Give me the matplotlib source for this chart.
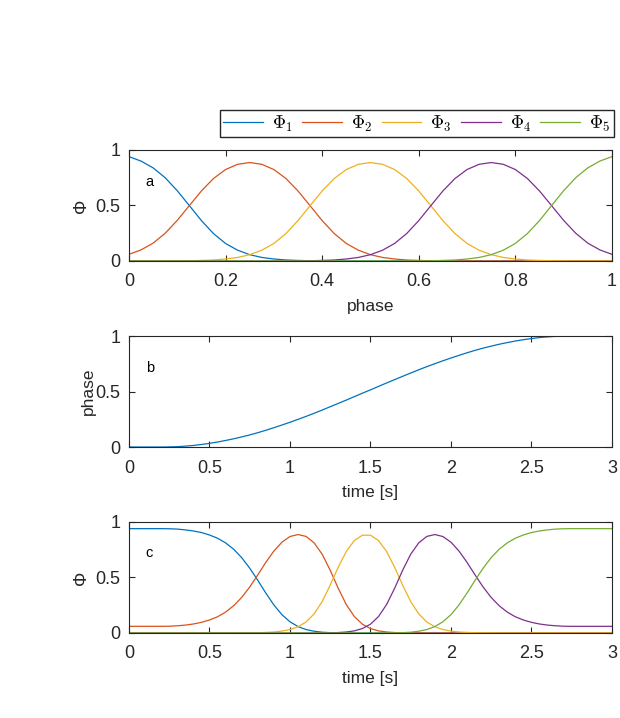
import matplotlib
matplotlib.use("Agg")
import matplotlib.pyplot as plt
import numpy as np

plt.rcParams['font.family'] = ['Liberation Sans', 'DejaVu Sans']
plt.rcParams['mathtext.fontset'] = 'cm'

# panel a: basis functions over phase (step 0.025)
phase_a = np.linspace(0, 1, 41)
phi1_a = [0.940, 0.900, 0.839, 0.750, 0.633, 0.499, 0.364, 0.247, 0.158, 0.097, 0.057, 0.032, 0.018, 0.009,
          0.005, 0.002, 0.001, 0, 0, 0, 0, 0, 0, 0, 0, 0, 0, 0, 0, 0, 0, 0, 0, 0, 0, 0, 0, 0, 0, 0, 0]
phi2_a = [0.060, 0.100, 0.161, 0.250, 0.366, 0.499, 0.631, 0.743, 0.824, 0.871, 0.887, 0.871, 0.824, 0.743,
          0.631, 0.498, 0.364, 0.247, 0.158, 0.097, 0.057, 0.032, 0.018, 0.009, 0.005, 0.002, 0.001, 0, 0, 0,
          0, 0, 0, 0, 0, 0, 0, 0, 0, 0, 0]
phi3_a = [0, 0, 0, 0, 0.001, 0.002, 0.005, 0.009, 0.018, 0.032, 0.057, 0.097, 0.158, 0.247, 0.364, 0.498,
          0.631, 0.743, 0.824, 0.871, 0.887, 0.871, 0.824, 0.743, 0.631, 0.498, 0.364, 0.247, 0.158, 0.097,
          0.057, 0.032, 0.018, 0.009, 0.005, 0.002, 0.001, 0, 0, 0, 0]
phi4_a = [0, 0, 0, 0, 0, 0, 0, 0, 0, 0, 0, 0, 0, 0, 0.001, 0.002, 0.005, 0.009, 0.018, 0.032, 0.057, 0.097,
          0.158, 0.247, 0.364, 0.498, 0.631, 0.743, 0.824, 0.871, 0.887, 0.871, 0.824, 0.743, 0.631, 0.499,
          0.366, 0.250, 0.161, 0.100, 0.060]
phi5_a = [0, 0, 0, 0, 0, 0, 0, 0, 0, 0, 0, 0, 0, 0, 0, 0, 0, 0, 0, 0, 0, 0, 0, 0, 0.001, 0.002, 0.005,
          0.009, 0.018, 0.032, 0.057, 0.097, 0.158, 0.247, 0.364, 0.499, 0.633, 0.750, 0.839, 0.900, 0.940]

# panel b / c: time axis (step 0.05 s)
time_s = np.linspace(0, 3, 61)
phase_b = [0, 0, 0, 0, 0, 0.001, 0.003, 0.008, 0.014, 0.023, 0.033, 0.045, 0.059, 0.074, 0.091, 0.109,
           0.129, 0.151, 0.174, 0.198, 0.223, 0.249, 0.276, 0.304, 0.333, 0.363, 0.393, 0.423, 0.454, 0.485,
           0.515, 0.546, 0.577, 0.607, 0.637, 0.667, 0.696, 0.724, 0.751, 0.777, 0.802, 0.826, 0.849, 0.871,
           0.891, 0.909, 0.926, 0.941, 0.955, 0.967, 0.977, 0.986, 0.992, 0.997, 0.999, 1, 1, 1, 1, 1, 1]

phi1_c = [0.940, 0.940, 0.940, 0.940, 0.940, 0.939, 0.936, 0.929, 0.919, 0.905, 0.883, 0.854, 0.812, 0.755,
          0.679, 0.584, 0.475, 0.360, 0.253, 0.165, 0.101, 0.058, 0.031, 0.016, 0.007, 0.003, 0.001, 0, 0, 0,
          0, 0, 0, 0, 0, 0, 0, 0, 0, 0, 0, 0, 0, 0, 0, 0, 0, 0, 0, 0, 0, 0, 0, 0, 0, 0, 0, 0, 0, 0, 0]
phi2_c = [0.060, 0.060, 0.060, 0.060, 0.060, 0.061, 0.065, 0.071, 0.081, 0.096, 0.117, 0.146, 0.188, 0.245,
          0.320, 0.414, 0.523, 0.636, 0.738, 0.818, 0.869, 0.887, 0.870, 0.812, 0.710, 0.565, 0.402, 0.256,
          0.148, 0.079, 0.040, 0.019, 0.009, 0.004, 0.001, 0.001, 0, 0, 0, 0, 0, 0, 0, 0, 0, 0, 0, 0, 0, 0,
          0, 0, 0, 0, 0, 0, 0, 0, 0, 0, 0]
phi3_c = [0, 0, 0, 0, 0, 0, 0, 0, 0, 0, 0, 0, 0, 0, 0.001, 0.001, 0.002, 0.005, 0.009, 0.017, 0.031, 0.056,
          0.099, 0.172, 0.283, 0.431, 0.593, 0.735, 0.833, 0.881, 0.881, 0.833, 0.735, 0.593, 0.431, 0.283,
          0.172, 0.099, 0.056, 0.031, 0.017, 0.009, 0.005, 0.002, 0.001, 0.001, 0, 0, 0, 0, 0, 0, 0, 0, 0,
          0, 0, 0, 0, 0, 0]
phi4_c = [0, 0, 0, 0, 0, 0, 0, 0, 0, 0, 0, 0, 0, 0, 0, 0, 0, 0, 0, 0, 0, 0, 0, 0, 0.001, 0.001, 0.004, 0.009,
          0.019, 0.040, 0.079, 0.148, 0.256, 0.402, 0.565, 0.710, 0.812, 0.870, 0.887, 0.869, 0.818, 0.738,
          0.636, 0.523, 0.414, 0.320, 0.245, 0.188, 0.146, 0.117, 0.096, 0.081, 0.071, 0.065, 0.061, 0.060,
          0.060, 0.060, 0.060, 0.060, 0.060]
phi5_c = [0, 0, 0, 0, 0, 0, 0, 0, 0, 0, 0, 0, 0, 0, 0, 0, 0, 0, 0, 0, 0, 0, 0, 0, 0, 0, 0, 0, 0, 0, 0, 0, 0,
          0.001, 0.003, 0.007, 0.016, 0.031, 0.058, 0.101, 0.165, 0.253, 0.360, 0.475, 0.584, 0.679, 0.755,
          0.812, 0.854, 0.883, 0.905, 0.919, 0.929, 0.936, 0.939, 0.940, 0.940, 0.940, 0.940, 0.940, 0.940]

labels = [r'$\Phi_1$', r'$\Phi_2$', r'$\Phi_3$', r'$\Phi_4$', r'$\Phi_5$']
colors = ['#0072BD', '#D95319', '#EDB120', '#7E2F8E', '#77AC30']

phase_ticks = [0, 0.2, 0.4, 0.6, 0.8, 1]
phase_ticklabels = ['0', '0.2', '0.4', '0.6', '0.8', '1']
time_ticks = [0, 0.5, 1, 1.5, 2, 2.5, 3]
time_ticklabels = ['0', '0.5', '1', '1.5', '2', '2.5', '3']
y_ticks = [0, 0.5, 1]
y_ticklabels = ['0', '0.5', '1']

axis_col = '#262626'
fig = plt.figure(figsize=(6.2, 7.18), dpi=100)


def style_axes(ax, xticks, xticklabels, xlim):
    ax.set_xlim(xlim)
    ax.set_ylim(0, 1)
    ax.set_xticks(xticks)
    ax.set_xticklabels(xticklabels)
    ax.set_yticks(y_ticks)
    ax.set_yticklabels(y_ticklabels)
    ax.tick_params(direction='in', length=4, width=0.8, top=True, right=True,
                   labelsize=13, colors=axis_col)
    ax.tick_params(axis='x', pad=9)
    ax.tick_params(axis='y', pad=6)
    for s in ax.spines.values():
        s.set_color(axis_col)
        s.set_linewidth(0.8)


ax_a = fig.add_axes([0.208, 0.6365, 0.779, 0.1546])
for vals, lab, col in zip([phi1_a, phi2_a, phi3_a, phi4_a, phi5_a], labels, colors):
    ax_a.plot(phase_a, vals, color=col, linewidth=0.9, label=lab)
style_axes(ax_a, phase_ticks, phase_ticklabels, (0, 1))
ax_a.set_xlabel('phase', fontsize=12.5, color=axis_col, labelpad=6)
ax_a.set_ylabel('Φ', fontsize=13, color=axis_col, labelpad=4)
ax_a.text(0.035, 0.71, 'a', transform=ax_a.transAxes, fontsize=10.5, va='center')
fig.legend(loc='upper right', bbox_to_anchor=(0.991, 0.847), borderaxespad=0, ncol=5, fontsize=13,
           handlelength=2.2, handletextpad=0.5, columnspacing=0.5, borderpad=0.2,
           fancybox=False, framealpha=1, edgecolor=axis_col)

ax_b = fig.add_axes([0.208, 0.3774, 0.779, 0.1546])
ax_b.plot(time_s, phase_b, color=colors[0], linewidth=0.9)
style_axes(ax_b, time_ticks, time_ticklabels, (0, 3))
ax_b.set_xlabel('time [s]', fontsize=12.5, color=axis_col, labelpad=6)
ax_b.set_ylabel('phase', fontsize=12.5, color=axis_col, labelpad=0)
ax_b.text(0.035, 0.71, 'b', transform=ax_b.transAxes, fontsize=10.5, va='center')

ax_c = fig.add_axes([0.208, 0.1184, 0.779, 0.1546])
for vals, col in zip([phi1_c, phi2_c, phi3_c, phi4_c, phi5_c], colors):
    ax_c.plot(time_s, vals, color=col, linewidth=0.9)
style_axes(ax_c, time_ticks, time_ticklabels, (0, 3))
ax_c.set_xlabel('time [s]', fontsize=12.5, color=axis_col, labelpad=6)
ax_c.set_ylabel('Φ', fontsize=13, color=axis_col, labelpad=4)
ax_c.text(0.035, 0.72, 'c', transform=ax_c.transAxes, fontsize=10.5, va='center')

fig.savefig('out.png', dpi=100)
